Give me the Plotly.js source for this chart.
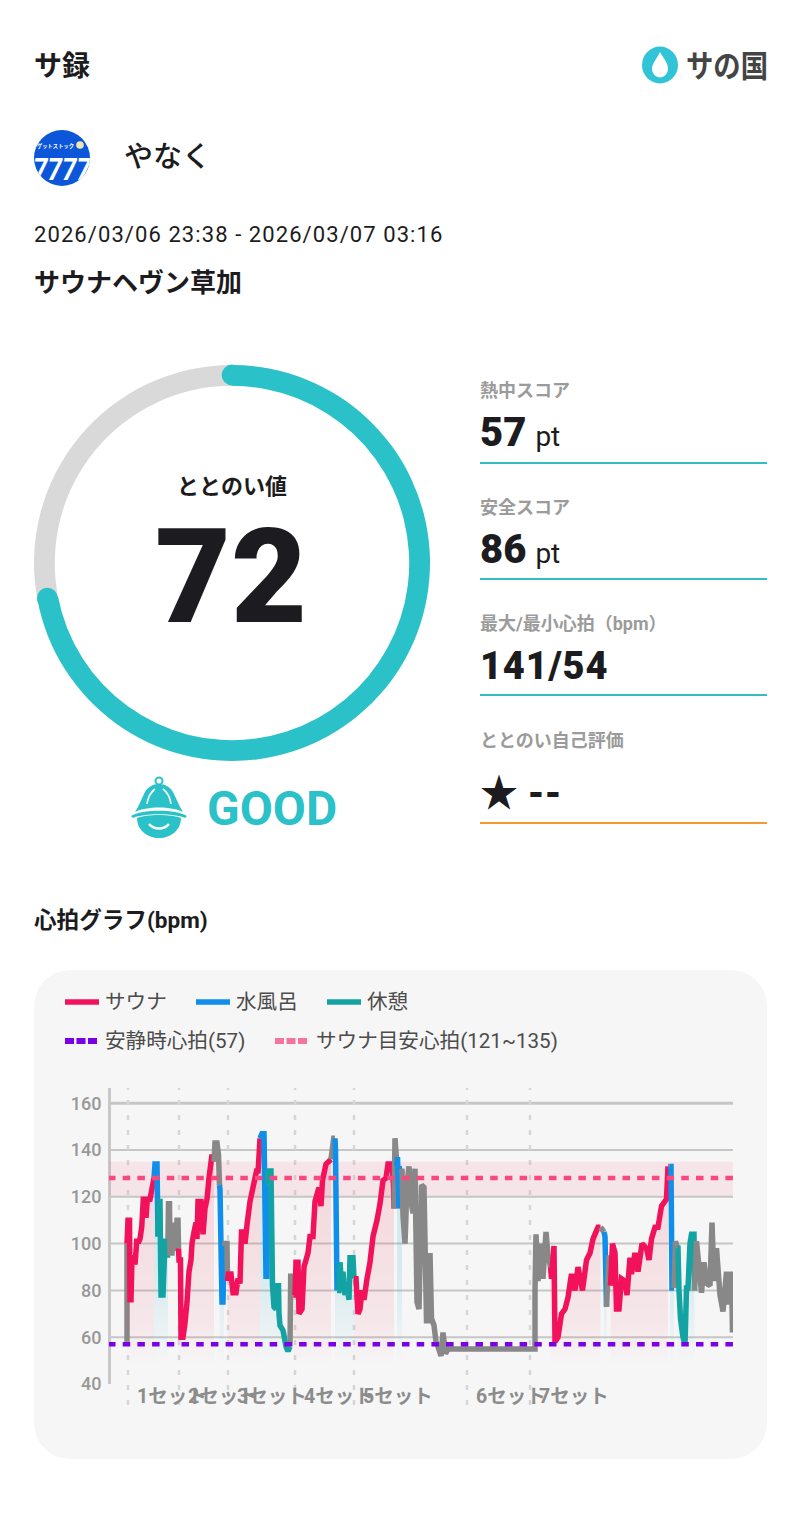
<!DOCTYPE html>
<html lang="ja"><head><meta charset="utf-8">
<script src="https://cdn.plot.ly/plotly-3.0.1.min.js"></script>
<style>
html,body{margin:0;padding:0;background:#fff;}
body{width:800px;height:1526px;position:relative;overflow:hidden;font-family:Roboto,"Noto Sans CJK JP",sans-serif;color:#1c1c20;}
.t{position:absolute;white-space:nowrap;line-height:1;}
.lab{left:480px;font-size:18px;font-weight:700;color:#9b9b9b;}
.val{left:480px;font-size:40px;font-weight:900;}
.val span{font-size:28px;font-weight:400;margin-left:9px;}
.rule{position:absolute;left:480px;width:287px;height:2px;background:#34bcc4;}
#card{position:absolute;left:34px;top:970px;width:733px;height:489px;border-radius:36px;background:#f6f6f6;}
#hr{position:absolute;left:0;top:970px;width:800px;height:489px;}
#gauge{position:absolute;left:34px;top:365px;width:396px;height:396px;}
svg{position:absolute;overflow:visible;}
</style></head><body>
<div class="t" style="left:34px;top:53px;font-size:28px;font-weight:700;">サ録</div>
<svg style="left:640px;top:44px" width="130" height="42" viewBox="0 0 130 42">
  <ellipse cx="20" cy="21" rx="18" ry="18.5" fill="#30c4d6"/>
  <path d="M20 8 C24 15 28 19 28 25 A8 8.5 0 0 1 12 25 C12 19 17 15 20 8Z" fill="#fff"/>
  <text x="46" y="33" font-size="31" font-weight="700" fill="#444" font-family="'Noto Sans CJK JP'" textLength="82" lengthAdjust="spacingAndGlyphs">サの国</text>
</svg>
<svg style="left:34px;top:130px" width="56" height="56" viewBox="0 0 56 56">
  <defs><clipPath id="av"><circle cx="28" cy="28" r="28"/></clipPath></defs>
  <circle cx="28" cy="28" r="28" fill="#0b56d9"/>
  <g clip-path="url(#av)">
  <text x="3" y="18" font-size="5.5" font-weight="700" fill="#fff" font-family="'Noto Sans CJK JP'" textLength="37" lengthAdjust="spacingAndGlyphs">ゲットストック</text>
  <circle cx="46" cy="15" r="3.8" fill="#f2e6b0"/>
  <text x="28" y="50" font-size="31" font-weight="700" font-style="italic" fill="#fff" text-anchor="middle" font-family="Roboto" textLength="58" lengthAdjust="spacingAndGlyphs">7777</text></g>
</svg>
<div class="t" style="left:124px;top:143px;font-size:29px;font-weight:500;">やなく</div>
<div class="t" style="left:34px;top:224px;font-size:22px;letter-spacing:1.08px;">2026/03/06 23:38 - 2026/03/07 03:16</div>
<div class="t" style="left:34px;top:270px;font-size:26px;font-weight:700;">サウナヘヴン草加</div>

<div id="gauge"></div>
<div class="t" style="left:132px;width:200px;text-align:center;top:476px;font-size:22px;font-weight:700;">ととのい値</div>
<div class="t" style="left:131px;width:200px;text-align:center;top:512px;font-size:131px;font-weight:900;">72</div>
<svg style="left:130px;top:776px" width="58" height="64" viewBox="0 0 58 64">
  <circle cx="29" cy="5" r="3.5" fill="none" stroke="#2bc1c8" stroke-width="2"/>
  <path d="M5 36 C9 30 11 24 14 18 C17 11 23 8 29 8 C35 8 41 11 44 18 C47 24 49 30 53 36 C42 30 16 30 5 36Z" fill="#2bc1c8"/>
  <path d="M1 40 C12 33 46 33 57 40 L55 42 C44 37 14 37 3 42Z" fill="#2bc1c8"/>
  <path d="M7 42 C16 38 42 38 51 42 C51 54 41 62 29 62 C17 62 7 54 7 42Z" fill="#2bc1c8"/>
  <path d="M19 48 C24 54 34 54 39 48" fill="none" stroke="#fff" stroke-width="2.5"/>
  <path d="M17 28 C18 21 21 16 25 13 M41 28 C40 21 37 16 33 13" fill="none" stroke="#fff" stroke-width="1.6"/>
</svg>
<div class="t" style="left:207px;top:785px;font-size:48px;font-weight:700;color:#2bc1c8;">GOOD</div>

<div class="t lab" style="top:382px;">熱中スコア</div>
<div class="t val" style="top:413px;">57<span>pt</span></div>
<div class="rule" style="top:462px;"></div>
<div class="t lab" style="top:499px;">安全スコア</div>
<div class="t val" style="top:530px;">86<span>pt</span></div>
<div class="rule" style="top:578px;"></div>
<div class="t lab" style="top:615px;">最大/最小心拍（bpm）</div>
<div class="t val" style="top:647px;font-size:38px;letter-spacing:.8px;">141/54</div>
<div class="rule" style="top:694px;"></div>
<div class="t lab" style="top:732px;">ととのい自己評価</div>
<div class="t val" style="top:774px;font-size:38px;">★ --</div>
<div class="rule" style="top:822px;background:#f09a30;"></div>

<div class="t" style="left:34px;top:910px;font-size:22.6px;font-weight:700;">心拍グラフ(bpm)</div>
<div id="card"></div>
<div id="hr"></div>

<script>
// ---- scores ----
const totonoiScore = 72;
const gaugeColors = ['#2bc1c8', '#d9d9d9'];

// ---- heart-rate series: x = elapsed sample, y = bpm ----
const hrSample = [18,18,
 19,20.5,21,22,23,25,26,27.7,30,31,32.7,34.3,36,37,38.3,41,43.7,45,
 46,48,49,
 50,51,52,54,56,58,58.5,59,
 59.5,60.5,61,63,64,65,67,68,69,69.5,
 70,71.5,72,74,76,78,80,82,83,85,87,88,89,92,94,96,98,100,103,105,
 106,108,109.5,110.5,
 111,113,114,115,
 116,118,118.5,
 119.3,122,124,127,129,131,132.5,135,136,138,141,144,148,149,151,
 153,155,157,158,158.5,
 159,162,163.5,165,167,168,169.5,170,171,174,177,179,181,
 181.7,183,184.3,
 186,187,189,190,193,195,199,201,204,206,210,212,213.5,217,222,
 224.7,226,
 226.5,228,
 230,231,233,234,236,238,240,241,244,245,
 247,249,251,253,255,258,261,264,268,271,274,277,279,283,284.5,285,
 286,288,
 288.5,290,292,293,
 294,296,298,300,302,304,306,308,310,312.5,315,317.5,320,321,322.5,325,327,329,332,334,336.5,339,342,426,426,427,429,432,434,437,439,441.5,
 442.5,445,446,449,452.5,456,459,462.5,466,469,473.5,477.5,481,484,487,489,491.5,
 495,
 496,497.5,
 500,501.5,
 503.5,506,507.5,510,512.5,516,518,521,522.5,526,529,533,537.5,540,542.5,546,549,552.5,557.5,559,
 561,
 562,563,565,
 566.5,568.5,
 569,570,571.5,574,576,577.5,579,581,582.5,585,585.5,
 587.5,590,592.5,595,597.5,601,603,605,607.5,611,614,617.5,620,622.5,623.5];
const hrBpm = [58,100,
 110,110,76,76,94,94,91,101,101,102,107,119,119,111,119,119,125,128,
 134,134,103,
 118,118,78,78,101,101,94,102,
 117,117,96,96,109,98,98,110,110,98,
 93,93,60,60,66,75,88,93,100,105,109,102,118,118,104,115,119,128,138,135,
 143,143,138,125,
 123,75,75,99,
 100,100,84,
 87,87,79,79,85,83,105,105,100,108,118,124,132,130,145,
 147,147,86,86,125,
 131,131,82,73,72,82,82,70,65,63,56,54,56,
 86,86,78,
 78,92,92,70,72,90,96,103,103,118,124,116,127,134,136,
 145,145,
 140,80,
 80,92,80,88,78,82,76,94,94,85,
 85,70,72,80,76,85,92,103,110,117,127,128,134,134,125,115,
 145,133,
 137,115,132,132,
 112,100,125,133,118,113,132,75,72,125,124,67,67,96,68,65,58,56,52,62,53,55,55,55,80,104,84,100,85,105,95,90,
 85,99,58,60,70,72,77,87,80,90,80,93,96,102,105,107,107,
 105,
 103,73,
 95,82,
 100,96,72,72,85,84,78,94,87,96,88,100,98,93,102,107,107,116,119,133,
 133,
 133,81,81,
 101,98,
 98,80,68,60,57,81,81,100,104,104,80,
 101,90,79,92,83,82,109,84,98,78,71,88,74,88,62];
// phase that begins at each sample
const phaseStart = [0,18.5,46,50,59.5,70,106,111,116,119,153,159,181.5,186,224,226.5,230,247,286,288.5,294,442,495,496,500,503,561,562,566,569,587];
const phaseName  = ['other','sauna','water','rest','other','sauna','other','water','other','sauna','water','rest','other','sauna','other','water','rest','sauna','other','water','other','sauna','other','water','other','sauna','other','water','other','rest','other'];

const setStart  = [19,70,119,186,245,358,421];
const setLabels = ['1セット','2セット','3セット','4セット','5セット','6セット','7セット'];
const yTicks = [40,60,80,100,120,140,160];
const gridTicks = [60,80,100,120,140,160];
const restingHr = 57;
const targetLow = 120.5, targetHigh = 135, targetMid = 128;
const legendSolid = ['サウナ','水風呂','休憩'];
const legendDash = ['安静時心拍(57)','サウナ目安心拍(121~135)'];

const COL = {sauna:'#f2125c', water:'#0f8eea', rest:'#13a3a3', other:'#888888', calm:'#7a00e6', target:'#f8487f', targetKey:'#f6739f'};
const FONT = 'Roboto,"Noto Sans CJK JP",sans-serif';

// ---- gauge ----
const ringR = 188, ringC = 198, box = 396;
const capAt = frac => {
  const a = 2*Math.PI*frac;
  return [ringC + ringR*Math.sin(a), ringC - ringR*Math.cos(a)];
};
const capShape = frac => {
  const [cx,cy] = capAt(frac), r = 10.4;
  return {type:'circle', xref:'paper', yref:'paper', layer:'above',
    x0:(cx-r)/box, x1:(cx+r)/box, y0:1-(cy+r)/box, y1:1-(cy-r)/box,
    fillcolor:gaugeColors[0], line:{width:0}};
};
Plotly.newPlot('gauge',[{type:'pie', values:[totonoiScore,100-totonoiScore], hole:0.895, sort:false,
  direction:'clockwise', rotation:0, textinfo:'none', hoverinfo:'skip', showlegend:false,
  marker:{colors:gaugeColors, line:{width:0}}, domain:{x:[0,1],y:[0,1]}}],
  {width:box,height:box,margin:{l:0,r:0,t:0,b:0},paper_bgcolor:'rgba(0,0,0,0)',
   shapes:[capShape(0),capShape(totonoiScore/100)]},{staticPlot:true,displayModeBar:false});

// ---- heart-rate traces: one per run of the same phase ----
const phaseOf = x => { let p = phaseName[0]; phaseStart.forEach((s,i)=>{ if (x>=s) p = phaseName[i]; }); return p; };
const runs = [];
hrSample.forEach((x,i)=>{
  const p = phaseOf(x);
  let r = runs[runs.length-1];
  if (!r || r.p!==p) { r = {p, x: r?[r.x[r.x.length-1]]:[], y: r?[r.y[r.y.length-1]]:[]}; runs.push(r); }
  r.x.push(x); r.y.push(hrBpm[i]);
});
const fillFor = p => {
  if (p==='sauna') return {fill:'tozeroy', fillcolor:'rgba(230,30,80,.15)', fillgradient:{type:'vertical', start:48, stop:135,
     colorscale:[[0,'rgba(232,60,90,0)'],[0.2,'rgba(232,60,90,.08)'],[1,'rgba(232,60,90,.17)']]}};
  if (p==='water'||p==='rest') return {fill:'tozeroy', fillcolor:'rgba(40,170,200,.1)', fillgradient:{type:'vertical', start:48, stop:90,
     colorscale:[[0,'rgba(40,170,200,0)'],[1,'rgba(40,170,200,.16)']]}};
  return {};
};
const traces = runs.map(r=>Object.assign({type:'scatter',mode:'lines',x:r.x,y:r.y,hoverinfo:'skip',showlegend:false,
  line:{color:COL[r.p],width:5.5,simplify:false}},fillFor(r.p)));
traces.push({type:'scatter',mode:'lines',x:[-1,624],y:[targetMid,targetMid],hoverinfo:'skip',showlegend:false,line:{color:COL.target,width:4.5,dash:'7.5px,7.2px'}});
traces.push({type:'scatter',mode:'lines',x:[-1,624],y:[restingHr,restingHr],hoverinfo:'skip',showlegend:false,line:{color:COL.calm,width:4.5,dash:'7.5px,7.2px'}});

// pixel helpers inside the 800x489 chart box
const M = {l:109,r:67,t:118,b:75}, PW = 800-M.l-M.r, PH = 489-M.t-M.b;
const px = x => (x-M.l)/PW, py = y => 1-(y-970-M.t)/PH;

const shapes = [], annotations = [];
shapes.push({type:'rect',xref:'x',yref:'y',x0:0,x1:624,y0:targetLow,y1:targetHigh,fillcolor:'rgba(240,100,130,.12)',line:{width:0},layer:'below'});
gridTicks.forEach(v=>shapes.push({type:'line',xref:'paper',yref:'y',x0:0,x1:1,y0:v,y1:v,layer:'below',line:{color:'#c6c6c6',width:v===160?3:2}}));
shapes.push({type:'line',xref:'paper',yref:'paper',x0:px(109.5),x1:px(109.5),y0:0,y1:1,layer:'below',line:{color:'#c8c8c8',width:3}});
setStart.forEach((x,i)=>{
  shapes.push({type:'line',xref:'x',yref:'paper',x0:x,x1:x,y0:py(1405),y1:1,layer:'below',line:{color:'#d6d6d6',width:2.5,dash:'5px,10px'}});
  annotations.push({xref:'x',yref:'paper',x:x,y:py(1396),text:setLabels[i],showarrow:false,xanchor:'left',yanchor:'middle',xshift:7,
    font:{family:FONT,size:19.5,color:'#8c8c8c',weight:700}});
});
// legend
const legText = (t,x,y)=>annotations.push({xref:'paper',yref:'paper',x:px(x),y:py(y),text:t,showarrow:false,xanchor:'left',yanchor:'middle',xshift:0,
    font:{family:FONT,size:20.6,color:'#4c4c4c'}});
const legBar = (x0,x1,y,c,dash)=>shapes.push({type:'line',xref:'paper',yref:'paper',x0:px(x0),x1:px(x1),y0:py(y),y1:py(y),
    line:{color:c,width:dash?6:5.5,dash:dash||'solid'}});
[[65,'sauna'],[196,'water'],[327,'rest']].forEach((e,i)=>{ legBar(e[0],e[0]+34,1002,COL[e[1]]); legText(legendSolid[i],e[0]+38,1002); });
legBar(65,97,1041,COL.calm,'9px,2.5px'); legText(legendDash[0],103,1041);
legBar(275,308,1041,COL.targetKey,'9px,2.5px'); legText(legendDash[1],314,1041);

Plotly.newPlot('hr',traces,{
  width:800,height:489,margin:M,paper_bgcolor:'rgba(0,0,0,0)',plot_bgcolor:'rgba(0,0,0,0)',showlegend:false,
  font:{family:FONT},
  xaxis:{range:[0,624],showgrid:false,zeroline:false,showticklabels:false,ticks:'',showline:false,fixedrange:true},
  yaxis:{range:[40,166.5],tickvals:yTicks,ticktext:yTicks.map(String),showgrid:false,zeroline:false,showline:false,
    ticks:'outside',ticklen:3,tickcolor:'rgba(0,0,0,0)',tickfont:{family:FONT,size:18,color:'#989898',weight:500},fixedrange:true},
  shapes,annotations
},{staticPlot:true,displayModeBar:false});
</script>
</body></html>
